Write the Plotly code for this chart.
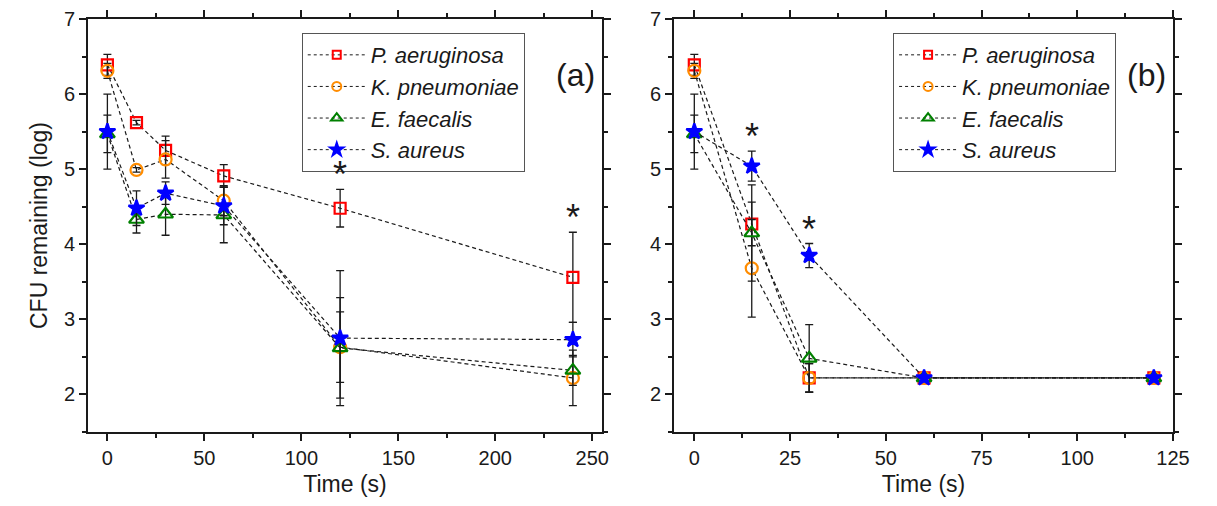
import plotly.graph_objects as go

# ---------------- data ----------------
species = ["P. aeruginosa", "K. pneumoniae", "E. faecalis", "S. aureus"]

time_a = [0, 15, 30, 60, 120, 240]
p_a = [6.39, 5.62, 5.25, 4.91, 4.48, 3.56]
p_a_err = [0.14, 0.03, 0.19, 0.15, 0.25, 0.60]
k_a = [6.31, 4.99, 5.13, 4.58, 2.63, 2.22]
k_a_err = [0.10, 0.03, 0.25, 0.20, 0.47, 0.37]
e_a = [5.47, 4.33, 4.40, 4.39, 2.62, 2.32]
e_a_err = [0.25, 0.18, 0.28, 0.37, 0.67, 0.20]
s_a = [5.50, 4.48, 4.68, 4.51, 2.75, 2.73]
s_a_err = [0.50, 0.23, 0.15, 0.25, 0.90, 0.23]

time_b = [0, 15, 30, 60, 120]
p_b = [6.39, 4.27, 2.22, 2.22, 2.22]
p_b_err = [0.14, 0.29, 0.19, 0.0, 0.0]
k_b = [6.31, 3.68, 2.22, 2.22, 2.22]
k_b_err = [0.10, 0.65, 0.19, 0.0, 0.0]
e_b = [5.47, 4.15, 2.48, 2.22, 2.22]
e_b_err = [0.25, 0.64, 0.45, 0.0, 0.0]
s_b = [5.50, 5.04, 3.85, 2.22, 2.22]
s_b_err = [0.50, 0.20, 0.16, 0.0, 0.0]

sig_a_times = [120, 240]
sig_a_tops = [4.73, 4.16]
sig_b_times = [15, 30]
sig_b_tops = [5.24, 4.01]

x_ticks_a = [0, 50, 100, 150, 200, 250]
x_ticks_b = [0, 25, 50, 75, 100, 125]
y_ticks = [2, 3, 4, 5, 6, 7]

# ---------------- styles ----------------
colors = ["#FF0000", "#FF8C00", "#008000", "#0000FF"]
symbols = ["square-open", "circle-open", "triangle-up-open", "star"]
sizes = [11, 12, 13, 12]
leg_sizes = [8, 9, 10, 10]
FONT = "Liberation Sans, Arial, sans-serif"
INK = "#1a1a1a"

fig = go.Figure()

panels = [
    ("x", "y", "legend", time_a, [(p_a, p_a_err), (k_a, k_a_err), (e_a, e_a_err), (s_a, s_a_err)]),
    ("x2", "y2", "legend2", time_b, [(p_b, p_b_err), (k_b, k_b_err), (e_b, e_b_err), (s_b, s_b_err)]),
]

for xa, ya, leg, t, series in panels:
    for i, (vals, errs) in enumerate(series):
        fig.add_trace(go.Scatter(
            x=t, y=vals, xaxis=xa, yaxis=ya, mode="lines+markers",
            line=dict(color=INK, width=1.2, dash="4px,3px"),
            marker=dict(symbol=symbols[i], size=sizes[i], color=colors[i],
                        line=dict(color=colors[i], width=2.2)),
            error_y=dict(type="data", array=errs, visible=True, color=INK,
                         thickness=1.3, width=4),
            showlegend=False, hoverinfo="x+y",
        ))
    for i, name in enumerate(species):
        fig.add_trace(go.Scatter(
            x=[None], y=[None], xaxis=xa, yaxis=ya, mode="lines+markers",
            name="<i>" + name + "</i>", legend=leg,
            line=dict(color=INK, width=1.0, dash="3px,3px"),
            marker=dict(symbol=symbols[i], size=leg_sizes[i], color=colors[i],
                        line=dict(color=colors[i], width=2)),
        ))

annotations = []
for t, top in zip(sig_a_times, sig_a_tops):
    annotations.append(dict(x=t, y=top, xref="x", yref="y", text="*", showarrow=False,
                            yanchor="bottom", yshift=-8, font=dict(size=36, color=INK, family=FONT)))
for t, top in zip(sig_b_times, sig_b_tops):
    annotations.append(dict(x=t, y=top, xref="x2", yref="y2", text="*", showarrow=False,
                            yanchor="bottom", yshift=-8, font=dict(size=36, color=INK, family=FONT)))
annotations.append(dict(x=0.449, y=0.913, xref="paper", yref="paper", text="(a)", showarrow=False,
                        font=dict(size=32, color=INK, family=FONT)))
annotations.append(dict(x=0.9955, y=0.913, xref="paper", yref="paper", text="(b)", showarrow=False,
                        xanchor="right", font=dict(size=32, color=INK, family=FONT)))


def axis_style(**kw):
    d = dict(showline=True, linecolor=INK, linewidth=2, mirror="ticks", ticks="outside",
             ticklen=7, tickwidth=2, tickcolor=INK, showgrid=False, zeroline=False,
             automargin=False, tickfont=dict(size=20, color=INK, family=FONT))
    d.update(kw)
    return d


legend_common = dict(
    xanchor="left", yanchor="top", bgcolor="white", bordercolor="#555", borderwidth=1,
    font=dict(size=22, color=INK, family=FONT), tracegroupgap=0, itemwidth=58,
)

# page body adds an 8px offset, so the figure is 8px smaller than the window
fig.update_layout(
    width=1209, height=498,
    margin=dict(l=80, r=44, t=11, b=74, autoexpand=False),
    paper_bgcolor="white", plot_bgcolor="white",
    font=dict(family=FONT, color=INK),
    xaxis=axis_style(domain=[0, 0.4737], range=[-10, 255], tickvals=x_ticks_a,
                     minor=dict(ticks="outside", ticklen=4, tickwidth=1.5, tickcolor=INK, dtick=25, tick0=0),
                     title=dict(text="Time (s)", font=dict(size=23, color=INK, family=FONT), standoff=8),
                     anchor="y"),
    yaxis=axis_style(domain=[0, 1], range=[1.5, 7], tickvals=y_ticks,
                     minor=dict(ticks="outside", ticklen=4, tickwidth=1.5, tickcolor=INK, dtick=0.5, tick0=0),
                     title=dict(text="CFU remaining (log)", font=dict(size=23, color=INK, family=FONT), standoff=10),
                     anchor="x"),
    xaxis2=axis_style(domain=[0.5401, 1], range=[-5.3, 125], tickvals=x_ticks_b,
                      minor=dict(ticks="outside", ticklen=4, tickwidth=1.5, tickcolor=INK, dtick=12.5, tick0=0),
                      title=dict(text="Time (s)", font=dict(size=23, color=INK, family=FONT), standoff=8),
                      anchor="y2"),
    yaxis2=axis_style(domain=[0, 1], range=[1.5, 7], tickvals=y_ticks,
                      minor=dict(ticks="outside", ticklen=4, tickwidth=1.5, tickcolor=INK, dtick=0.5, tick0=0),
                      anchor="x2"),
    legend=dict(x=0.197, y=0.966, **legend_common),
    legend2=dict(x=0.742, y=0.966, **legend_common),
    annotations=annotations,
)

fig.write_html("out.html")
